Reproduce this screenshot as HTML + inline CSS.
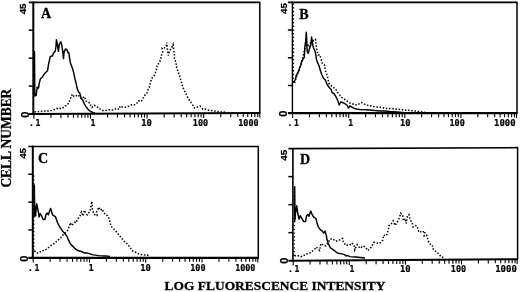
<!DOCTYPE html><html><head><meta charset="utf-8"><style>html,body{margin:0;padding:0;background:#fff;}svg{display:block;}.mono{font-family:"DejaVu Sans Mono",monospace;font-weight:bold;font-size:8.1px;stroke:#000;stroke-width:0.2px;}.sans{font-family:"Liberation Sans",sans-serif;font-weight:bold;font-size:9.8px;stroke:#000;stroke-width:0.25px;}.serif{font-family:"Liberation Serif",serif;font-weight:bold;stroke:#000;stroke-width:0.3px;}</style></head><body>
<svg width="520" height="292" viewBox="0 0 520 292">
<rect width="520" height="292" fill="#fff"/>
<line x1="28.80" y1="2.30" x2="260.3" y2="2.30" stroke="#000" stroke-width="1.7"/>
<line x1="259.8" y1="2.3" x2="259.8" y2="113.0" stroke="#000" stroke-width="1.5"/>
<line x1="33.3" y1="1.60" x2="33.3" y2="115.00" stroke="#000" stroke-width="2"/>
<line x1="28.80" y1="114.02" x2="260.3" y2="113.00" stroke="#000" stroke-width="2.2"/>
<line x1="28.80" y1="30.23" x2="33.3" y2="30.23" stroke="#000" stroke-width="1.5"/>
<line x1="28.80" y1="58.15" x2="33.3" y2="58.15" stroke="#000" stroke-width="1.5"/>
<line x1="28.80" y1="86.08" x2="33.3" y2="86.08" stroke="#000" stroke-width="1.5"/>
<line x1="33.90" y1="114.00" x2="33.90" y2="118.80" stroke="#000" stroke-width="1.1"/>
<line x1="50.94" y1="113.92" x2="50.94" y2="117.92" stroke="#000" stroke-width="1.1"/>
<line x1="60.91" y1="113.88" x2="60.91" y2="117.88" stroke="#000" stroke-width="1.1"/>
<line x1="67.98" y1="113.85" x2="67.98" y2="117.85" stroke="#000" stroke-width="1.1"/>
<line x1="73.46" y1="113.82" x2="73.46" y2="117.82" stroke="#000" stroke-width="1.1"/>
<line x1="77.94" y1="113.80" x2="77.94" y2="117.80" stroke="#000" stroke-width="1.1"/>
<line x1="81.73" y1="113.79" x2="81.73" y2="117.79" stroke="#000" stroke-width="1.1"/>
<line x1="85.01" y1="113.77" x2="85.01" y2="117.77" stroke="#000" stroke-width="1.1"/>
<line x1="87.91" y1="113.76" x2="87.91" y2="117.76" stroke="#000" stroke-width="1.1"/>
<line x1="90.50" y1="113.75" x2="90.50" y2="118.55" stroke="#000" stroke-width="1.1"/>
<line x1="107.54" y1="113.67" x2="107.54" y2="117.67" stroke="#000" stroke-width="1.1"/>
<line x1="117.51" y1="113.63" x2="117.51" y2="117.63" stroke="#000" stroke-width="1.1"/>
<line x1="124.58" y1="113.60" x2="124.58" y2="117.60" stroke="#000" stroke-width="1.1"/>
<line x1="130.06" y1="113.57" x2="130.06" y2="117.57" stroke="#000" stroke-width="1.1"/>
<line x1="134.54" y1="113.55" x2="134.54" y2="117.55" stroke="#000" stroke-width="1.1"/>
<line x1="138.33" y1="113.54" x2="138.33" y2="117.54" stroke="#000" stroke-width="1.1"/>
<line x1="141.61" y1="113.52" x2="141.61" y2="117.52" stroke="#000" stroke-width="1.1"/>
<line x1="144.51" y1="113.51" x2="144.51" y2="117.51" stroke="#000" stroke-width="1.1"/>
<line x1="147.10" y1="113.50" x2="147.10" y2="118.30" stroke="#000" stroke-width="1.1"/>
<line x1="164.14" y1="113.42" x2="164.14" y2="117.42" stroke="#000" stroke-width="1.1"/>
<line x1="174.11" y1="113.38" x2="174.11" y2="117.38" stroke="#000" stroke-width="1.1"/>
<line x1="181.18" y1="113.35" x2="181.18" y2="117.35" stroke="#000" stroke-width="1.1"/>
<line x1="186.66" y1="113.32" x2="186.66" y2="117.32" stroke="#000" stroke-width="1.1"/>
<line x1="191.14" y1="113.30" x2="191.14" y2="117.30" stroke="#000" stroke-width="1.1"/>
<line x1="194.93" y1="113.29" x2="194.93" y2="117.29" stroke="#000" stroke-width="1.1"/>
<line x1="198.21" y1="113.27" x2="198.21" y2="117.27" stroke="#000" stroke-width="1.1"/>
<line x1="201.11" y1="113.26" x2="201.11" y2="117.26" stroke="#000" stroke-width="1.1"/>
<line x1="203.70" y1="113.25" x2="203.70" y2="118.05" stroke="#000" stroke-width="1.1"/>
<line x1="220.74" y1="113.17" x2="220.74" y2="117.17" stroke="#000" stroke-width="1.1"/>
<line x1="230.71" y1="113.13" x2="230.71" y2="117.13" stroke="#000" stroke-width="1.1"/>
<line x1="237.78" y1="113.10" x2="237.78" y2="117.10" stroke="#000" stroke-width="1.1"/>
<line x1="243.26" y1="113.07" x2="243.26" y2="117.07" stroke="#000" stroke-width="1.1"/>
<line x1="247.74" y1="113.05" x2="247.74" y2="117.05" stroke="#000" stroke-width="1.1"/>
<line x1="251.53" y1="113.04" x2="251.53" y2="117.04" stroke="#000" stroke-width="1.1"/>
<line x1="254.81" y1="113.02" x2="254.81" y2="117.02" stroke="#000" stroke-width="1.1"/>
<line x1="257.71" y1="113.01" x2="257.71" y2="117.01" stroke="#000" stroke-width="1.1"/>
<line x1="259.80" y1="113.00" x2="259.80" y2="117.80" stroke="#000" stroke-width="1.1"/>
<path d="M34.5,51 L34.8,96 L36.2,95.4 L37.2,87.2 L38.5,88.1 L39.3,83.1 L40.3,79 L42.4,77 L44.4,73.9 L45.4,72.7 L47.5,70.8 L48.5,64.6 L49.6,59.5 L50.2,56.6 L52.6,55.7 L53.6,52.8 L55.2,51.3 L56,46.5 L56.4,39.8 L57.4,44.1 L58.4,51.3 L59.3,44.6 L60.8,41.7 L61.7,44.6 L62.7,51.3 L63.5,58.6 L64.1,51.8 L65.6,48.9 L67,49.9 L68,52.8 L68.9,52.8 L69.4,57.1 L70.4,62.9 L72.4,68.1 L73.9,73.5 L74.7,78.1 L76.2,83.5 L77,88.1 L78.5,92 L79.8,93.1 L81,97.7 L82.7,100 L84.4,104 L86.1,106.9 L88.4,109.8 L90.8,111.5 L93.1,112.7 L95,113" fill="none" stroke="#000" stroke-width="1.45" stroke-linejoin="round"/>
<path d="M34.5,112 L40,111.5 L45,111 L50,111 L55,109.2 L58.5,108 L61.9,108.6 L65.4,105.8 L67.7,104.6 L69.4,101.1 L71.1,97.1 L72.3,94.2 L74,96.5 L75.8,96 L78.1,94.8 L79.8,97.1 L81.5,98.8 L84.4,96.5 L86.1,101.1 L88.4,101.7 L90.2,104 L91.9,107.5 L94.2,105.2 L96.5,106.3 L99.4,108.6 L102.3,110.4 L105.7,110.4 L109.2,109.8 L113.1,110.1 L116.2,108.5 L119.2,109.3 L120,106.2 L122.3,107 L125.4,107.3 L128.5,106.2 L131.6,104.7 L134.7,104.7 L137,103.1 L138.5,100.8 L140.8,101.6 L142.7,99.5 L144.2,95.8 L146.8,93.4 L147.8,90.3 L149.4,87.2 L150.4,82.6 L151.6,78.5 L153.9,76.2 L155.5,72.3 L156.6,68.6 L157.3,64.5 L159.3,63.1 L160.7,59 L161.4,55.5 L162.7,52.1 L162.1,48 L164.1,48 L166.2,46.6 L166.8,42.5 L167.5,50.1 L168.2,55.5 L169.6,50.8 L171.6,48 L173,44.6 L173.7,50.1 L174.4,54.2 L174.4,59 L175.8,61.7 L176.6,67.5 L179.4,75.1 L181.3,81.7 L183.2,88.2 L186,93.9 L188.8,99.5 L191.7,103.3 L194.5,108 L197.3,107.1 L200.1,106.1 L203,109.3 L205.8,109.3 L209.5,110.5 L213.3,110.8 L219,111.8 L226.5,112.2" fill="none" stroke="#000" stroke-width="1.5" stroke-dasharray="1.5 1.7"/>
<text class="mono" x="28.9" y="126.2">.</text>
<text class="mono" x="35.4" y="126.2">1</text>
<text class="mono" x="90.6" y="126.2">1</text>
<text class="mono" x="141.2" y="126.2" textLength="10.6" lengthAdjust="spacingAndGlyphs">10</text>
<text class="mono" x="192.8" y="126.2" textLength="15.3" lengthAdjust="spacingAndGlyphs">100</text>
<text class="mono" x="238.3" y="126.2" textLength="20.2" lengthAdjust="spacingAndGlyphs">1000</text>
<text class="sans" text-anchor="middle" transform="translate(26.4,8.9) rotate(-90)">45</text>
<text class="sans" style="font-size:11px" text-anchor="middle" transform="translate(28.7,114.6) rotate(-90)">0</text>
<text class="serif" font-size="14" x="41.0" y="17.75">A</text>
<line x1="287.90" y1="2.30" x2="517.5" y2="2.30" stroke="#000" stroke-width="1.7"/>
<line x1="517.0" y1="2.3" x2="517.0" y2="113.2" stroke="#000" stroke-width="1.5"/>
<line x1="292.4" y1="1.60" x2="292.4" y2="114.20" stroke="#000" stroke-width="1.4"/>
<line x1="287.90" y1="113.20" x2="517.5" y2="113.20" stroke="#000" stroke-width="2.2"/>
<line x1="287.90" y1="30.03" x2="292.4" y2="30.03" stroke="#000" stroke-width="1.5"/>
<line x1="287.90" y1="57.75" x2="292.4" y2="57.75" stroke="#000" stroke-width="1.5"/>
<line x1="287.90" y1="85.48" x2="292.4" y2="85.48" stroke="#000" stroke-width="1.5"/>
<line x1="292.60" y1="113.20" x2="292.60" y2="118.00" stroke="#000" stroke-width="1.1"/>
<line x1="309.49" y1="113.20" x2="309.49" y2="117.20" stroke="#000" stroke-width="1.1"/>
<line x1="319.37" y1="113.20" x2="319.37" y2="117.20" stroke="#000" stroke-width="1.1"/>
<line x1="326.38" y1="113.20" x2="326.38" y2="117.20" stroke="#000" stroke-width="1.1"/>
<line x1="331.81" y1="113.20" x2="331.81" y2="117.20" stroke="#000" stroke-width="1.1"/>
<line x1="336.25" y1="113.20" x2="336.25" y2="117.20" stroke="#000" stroke-width="1.1"/>
<line x1="340.01" y1="113.20" x2="340.01" y2="117.20" stroke="#000" stroke-width="1.1"/>
<line x1="343.26" y1="113.20" x2="343.26" y2="117.20" stroke="#000" stroke-width="1.1"/>
<line x1="346.13" y1="113.20" x2="346.13" y2="117.20" stroke="#000" stroke-width="1.1"/>
<line x1="348.70" y1="113.20" x2="348.70" y2="118.00" stroke="#000" stroke-width="1.1"/>
<line x1="365.59" y1="113.20" x2="365.59" y2="117.20" stroke="#000" stroke-width="1.1"/>
<line x1="375.47" y1="113.20" x2="375.47" y2="117.20" stroke="#000" stroke-width="1.1"/>
<line x1="382.48" y1="113.20" x2="382.48" y2="117.20" stroke="#000" stroke-width="1.1"/>
<line x1="387.91" y1="113.20" x2="387.91" y2="117.20" stroke="#000" stroke-width="1.1"/>
<line x1="392.35" y1="113.20" x2="392.35" y2="117.20" stroke="#000" stroke-width="1.1"/>
<line x1="396.11" y1="113.20" x2="396.11" y2="117.20" stroke="#000" stroke-width="1.1"/>
<line x1="399.36" y1="113.20" x2="399.36" y2="117.20" stroke="#000" stroke-width="1.1"/>
<line x1="402.23" y1="113.20" x2="402.23" y2="117.20" stroke="#000" stroke-width="1.1"/>
<line x1="404.80" y1="113.20" x2="404.80" y2="118.00" stroke="#000" stroke-width="1.1"/>
<line x1="421.69" y1="113.20" x2="421.69" y2="117.20" stroke="#000" stroke-width="1.1"/>
<line x1="431.57" y1="113.20" x2="431.57" y2="117.20" stroke="#000" stroke-width="1.1"/>
<line x1="438.58" y1="113.20" x2="438.58" y2="117.20" stroke="#000" stroke-width="1.1"/>
<line x1="444.01" y1="113.20" x2="444.01" y2="117.20" stroke="#000" stroke-width="1.1"/>
<line x1="448.45" y1="113.20" x2="448.45" y2="117.20" stroke="#000" stroke-width="1.1"/>
<line x1="452.21" y1="113.20" x2="452.21" y2="117.20" stroke="#000" stroke-width="1.1"/>
<line x1="455.46" y1="113.20" x2="455.46" y2="117.20" stroke="#000" stroke-width="1.1"/>
<line x1="458.33" y1="113.20" x2="458.33" y2="117.20" stroke="#000" stroke-width="1.1"/>
<line x1="460.90" y1="113.20" x2="460.90" y2="118.00" stroke="#000" stroke-width="1.1"/>
<line x1="477.79" y1="113.20" x2="477.79" y2="117.20" stroke="#000" stroke-width="1.1"/>
<line x1="487.67" y1="113.20" x2="487.67" y2="117.20" stroke="#000" stroke-width="1.1"/>
<line x1="494.68" y1="113.20" x2="494.68" y2="117.20" stroke="#000" stroke-width="1.1"/>
<line x1="500.11" y1="113.20" x2="500.11" y2="117.20" stroke="#000" stroke-width="1.1"/>
<line x1="504.55" y1="113.20" x2="504.55" y2="117.20" stroke="#000" stroke-width="1.1"/>
<line x1="508.31" y1="113.20" x2="508.31" y2="117.20" stroke="#000" stroke-width="1.1"/>
<line x1="511.56" y1="113.20" x2="511.56" y2="117.20" stroke="#000" stroke-width="1.1"/>
<line x1="514.43" y1="113.20" x2="514.43" y2="117.20" stroke="#000" stroke-width="1.1"/>
<line x1="516.50" y1="113.20" x2="516.50" y2="118.00" stroke="#000" stroke-width="1.1"/>
<line x1="293.5" y1="3.5" x2="293.5" y2="83" stroke="#000" stroke-width="1.3" stroke-dasharray="1.3 2.4"/>
<path d="M293.6,83 L294.5,81 L295.6,79 L296.2,75.5 L297.3,73.7 L299.1,70.2 L299.5,67.9 L300.8,65.5 L301.5,62.1 L302.9,59.2 L304.3,57.3 L304.8,47.7 L305.8,40 L306.3,32.2 L306.75,40 L307.2,51.5 L308.2,53.5 L309.2,49.6 L310.6,45.8 L311.1,41.9 L311.6,37 L312.5,43.8 L313.5,47.7 L314.4,49.6 L315.4,52.5 L315.9,55.4 L316.4,59.2 L317.3,62 L318.9,65.5 L320.6,71.3 L321.8,74.8 L323.5,78.3 L325.3,80.1 L327,84.1 L328.8,87.1 L331.1,89.4 L332.3,92.9 L334,93.5 L335.4,95.8 L337.7,100.4 L339.2,105 L340.8,101.9 L343.1,102.7 L346.9,105 L348.5,108 L350,105.8 L352.3,107.3 L355.4,108.8 L360,109.6 L366.2,109.8 L372,110.2 L380,111 L385,111 L390,111.5 L396.9,112 L405,112.6" fill="none" stroke="#000" stroke-width="1.45" stroke-linejoin="round"/>
<path d="M294.6,83 L296,78 L297.5,74 L299.5,69 L301.2,63 L303.2,56 L304.5,50 L306,46 L307.5,44 L309,47 L310.5,43 L312,39 L313.5,41 L315.5,39.6 L316.2,45.8 L316.9,49.9 L318.3,55 L319.7,54.7 L321,58.8 L322.4,63.6 L324.5,65 L325.3,70.2 L326.5,73.7 L327.6,77.2 L328.8,83 L330,85 L332.3,86.5 L335.8,89.4 L337.5,92.3 L341.5,97.3 L346.2,100.4 L350.8,103.5 L356.9,105 L361.5,102.7 L366.2,105 L370.8,105.8 L375.4,107 L381.5,107.5 L386.2,108.5 L390.8,108.5 L395.4,109 L400,109.5 L410,110.5 L420,111.5 L425,112.5" fill="none" stroke="#000" stroke-width="1.5" stroke-dasharray="1.5 1.7"/>
<text class="mono" x="287.6" y="126.0">.</text>
<text class="mono" x="294.1" y="126.0">1</text>
<text class="mono" x="348.2" y="126.0">1</text>
<text class="mono" x="400.0" y="126.0" textLength="10.6" lengthAdjust="spacingAndGlyphs">10</text>
<text class="mono" x="449.5" y="126.0" textLength="15.3" lengthAdjust="spacingAndGlyphs">100</text>
<text class="mono" x="494.0" y="126.0" textLength="21.6" lengthAdjust="spacingAndGlyphs">1000</text>
<text class="sans" text-anchor="middle" transform="translate(286.7,8.6) rotate(-90)">45</text>
<text class="sans" style="font-size:11px" text-anchor="middle" transform="translate(287.2,113.8) rotate(-90)">0</text>
<text class="serif" font-size="14" x="299.2" y="18.6">B</text>
<line x1="28.30" y1="146.40" x2="258.8" y2="146.40" stroke="#000" stroke-width="1.45"/>
<line x1="258.3" y1="146.4" x2="258.3" y2="257.8" stroke="#000" stroke-width="1.5"/>
<line x1="32.8" y1="145.70" x2="32.8" y2="258.80" stroke="#000" stroke-width="2"/>
<line x1="28.30" y1="257.80" x2="258.8" y2="257.80" stroke="#000" stroke-width="2.2"/>
<line x1="28.30" y1="174.25" x2="32.8" y2="174.25" stroke="#000" stroke-width="1.5"/>
<line x1="28.30" y1="202.10" x2="32.8" y2="202.10" stroke="#000" stroke-width="1.5"/>
<line x1="28.30" y1="229.95" x2="32.8" y2="229.95" stroke="#000" stroke-width="1.5"/>
<line x1="33.20" y1="257.80" x2="33.20" y2="262.60" stroke="#000" stroke-width="1.1"/>
<line x1="50.14" y1="257.80" x2="50.14" y2="261.80" stroke="#000" stroke-width="1.1"/>
<line x1="60.05" y1="257.80" x2="60.05" y2="261.80" stroke="#000" stroke-width="1.1"/>
<line x1="67.08" y1="257.80" x2="67.08" y2="261.80" stroke="#000" stroke-width="1.1"/>
<line x1="72.53" y1="257.80" x2="72.53" y2="261.80" stroke="#000" stroke-width="1.1"/>
<line x1="76.99" y1="257.80" x2="76.99" y2="261.80" stroke="#000" stroke-width="1.1"/>
<line x1="80.76" y1="257.80" x2="80.76" y2="261.80" stroke="#000" stroke-width="1.1"/>
<line x1="84.02" y1="257.80" x2="84.02" y2="261.80" stroke="#000" stroke-width="1.1"/>
<line x1="86.90" y1="257.80" x2="86.90" y2="261.80" stroke="#000" stroke-width="1.1"/>
<line x1="89.48" y1="257.80" x2="89.48" y2="262.60" stroke="#000" stroke-width="1.1"/>
<line x1="106.42" y1="257.80" x2="106.42" y2="261.80" stroke="#000" stroke-width="1.1"/>
<line x1="116.32" y1="257.80" x2="116.32" y2="261.80" stroke="#000" stroke-width="1.1"/>
<line x1="123.36" y1="257.80" x2="123.36" y2="261.80" stroke="#000" stroke-width="1.1"/>
<line x1="128.81" y1="257.80" x2="128.81" y2="261.80" stroke="#000" stroke-width="1.1"/>
<line x1="133.27" y1="257.80" x2="133.27" y2="261.80" stroke="#000" stroke-width="1.1"/>
<line x1="137.03" y1="257.80" x2="137.03" y2="261.80" stroke="#000" stroke-width="1.1"/>
<line x1="140.30" y1="257.80" x2="140.30" y2="261.80" stroke="#000" stroke-width="1.1"/>
<line x1="143.17" y1="257.80" x2="143.17" y2="261.80" stroke="#000" stroke-width="1.1"/>
<line x1="145.75" y1="257.80" x2="145.75" y2="262.60" stroke="#000" stroke-width="1.1"/>
<line x1="162.69" y1="257.80" x2="162.69" y2="261.80" stroke="#000" stroke-width="1.1"/>
<line x1="172.60" y1="257.80" x2="172.60" y2="261.80" stroke="#000" stroke-width="1.1"/>
<line x1="179.63" y1="257.80" x2="179.63" y2="261.80" stroke="#000" stroke-width="1.1"/>
<line x1="185.08" y1="257.80" x2="185.08" y2="261.80" stroke="#000" stroke-width="1.1"/>
<line x1="189.54" y1="257.80" x2="189.54" y2="261.80" stroke="#000" stroke-width="1.1"/>
<line x1="193.31" y1="257.80" x2="193.31" y2="261.80" stroke="#000" stroke-width="1.1"/>
<line x1="196.57" y1="257.80" x2="196.57" y2="261.80" stroke="#000" stroke-width="1.1"/>
<line x1="199.45" y1="257.80" x2="199.45" y2="261.80" stroke="#000" stroke-width="1.1"/>
<line x1="202.03" y1="257.80" x2="202.03" y2="262.60" stroke="#000" stroke-width="1.1"/>
<line x1="218.97" y1="257.80" x2="218.97" y2="261.80" stroke="#000" stroke-width="1.1"/>
<line x1="228.87" y1="257.80" x2="228.87" y2="261.80" stroke="#000" stroke-width="1.1"/>
<line x1="235.91" y1="257.80" x2="235.91" y2="261.80" stroke="#000" stroke-width="1.1"/>
<line x1="241.36" y1="257.80" x2="241.36" y2="261.80" stroke="#000" stroke-width="1.1"/>
<line x1="245.82" y1="257.80" x2="245.82" y2="261.80" stroke="#000" stroke-width="1.1"/>
<line x1="249.58" y1="257.80" x2="249.58" y2="261.80" stroke="#000" stroke-width="1.1"/>
<line x1="252.85" y1="257.80" x2="252.85" y2="261.80" stroke="#000" stroke-width="1.1"/>
<line x1="255.72" y1="257.80" x2="255.72" y2="261.80" stroke="#000" stroke-width="1.1"/>
<line x1="257.80" y1="257.80" x2="257.80" y2="262.60" stroke="#000" stroke-width="1.1"/>
<line x1="33.8" y1="175.5" x2="33.8" y2="251" stroke="#000" stroke-width="1.3" stroke-dasharray="1.3 2.4"/>
<path d="M34.3,217 L34.3,185 L34.6,203.7 L35.6,216 L36.7,203.7 L38.5,212.5 L39.1,217.1 L40.2,213.6 L41.4,215.4 L43.2,219.5 L44.9,219.5 L46.1,214.2 L47.2,213.1 L48.4,214.8 L49,212.5 L50.7,208.4 L51.9,213.1 L53.1,215.4 L55.4,216.6 L56.6,220.1 L57.7,223 L58.9,225.3 L60.6,228.2 L62.9,231.6 L65,233.7 L67,236.4 L68.4,239.9 L70.5,244 L73.2,246.7 L76,249.5 L78.7,250.8 L81.4,251.5 L84.2,252.9 L86.9,252.9 L89.1,253.6 L93.2,254.9 L98.7,255.6 L102.8,255.9 L105.5,255.9 L110,256.5" fill="none" stroke="#000" stroke-width="1.45" stroke-linejoin="round"/>
<path d="M34.5,250.8 L36.2,252.9 L39,252.9 L41.7,250.8 L45.1,250.1 L47.9,248.1 L51.3,245.3 L54.7,243.3 L57.5,240.5 L60.2,238.5 L62.9,235.1 L65,233 L67.7,230.3 L69.1,226.8 L70.5,222.7 L71.1,225.3 L74,223.6 L75.8,221.2 L76.2,221.8 L77.9,218.9 L80.2,215.4 L81.4,211.9 L83.2,216 L84.3,210.2 L86.1,213.6 L87.2,214.8 L89,212.5 L90.2,210.2 L91.9,201.4 L92.5,209.6 L93.6,213.6 L95.4,215.4 L97.1,215.4 L96.6,211.9 L98.9,207.2 L100.1,210.2 L102.4,209 L103.6,212.5 L104.7,213.6 L105.9,214.2 L107.6,216 L109.4,218.9 L110,222.4 L111,226.2 L114.5,229.6 L117.9,233.7 L121.3,237.8 L124,241.2 L127.5,244 L130.2,247.4 L132.3,250.8 L135.7,252.2 L139.1,254.2 L142.5,254.9 L146.6,254.9 L150,256" fill="none" stroke="#000" stroke-width="1.5" stroke-dasharray="1.5 1.7"/>
<text class="mono" x="28.1" y="270.8">.</text>
<text class="mono" x="34.6" y="270.8">1</text>
<text class="mono" x="88.8" y="270.9">1</text>
<text class="mono" x="140.3" y="271.0" textLength="10.6" lengthAdjust="spacingAndGlyphs">10</text>
<text class="mono" x="190.2" y="271.0" textLength="15.3" lengthAdjust="spacingAndGlyphs">100</text>
<text class="mono" x="235.2" y="271.0" textLength="20.2" lengthAdjust="spacingAndGlyphs">1000</text>
<text class="sans" text-anchor="middle" transform="translate(25.7,153.4) rotate(-90)">45</text>
<text class="sans" style="font-size:11px" text-anchor="middle" transform="translate(27.5,258.6) rotate(-90)">0</text>
<text class="serif" font-size="14" x="38.0" y="162.6">C</text>
<line x1="288.40" y1="148.62" x2="518.1" y2="147.70" stroke="#000" stroke-width="1.7"/>
<line x1="517.6" y1="147.7" x2="517.6" y2="259.2" stroke="#000" stroke-width="1.5"/>
<line x1="292.9" y1="147.90" x2="292.9" y2="261.70" stroke="#000" stroke-width="1.6"/>
<line x1="288.40" y1="260.73" x2="518.1" y2="259.20" stroke="#000" stroke-width="1.9"/>
<line x1="288.40" y1="176.62" x2="292.9" y2="176.62" stroke="#000" stroke-width="1.5"/>
<line x1="288.40" y1="204.65" x2="292.9" y2="204.65" stroke="#000" stroke-width="1.5"/>
<line x1="288.40" y1="232.67" x2="292.9" y2="232.67" stroke="#000" stroke-width="1.5"/>
<line x1="293.20" y1="260.70" x2="293.20" y2="265.50" stroke="#000" stroke-width="1.1"/>
<line x1="310.09" y1="260.59" x2="310.09" y2="264.59" stroke="#000" stroke-width="1.1"/>
<line x1="319.97" y1="260.52" x2="319.97" y2="264.52" stroke="#000" stroke-width="1.1"/>
<line x1="326.98" y1="260.47" x2="326.98" y2="264.47" stroke="#000" stroke-width="1.1"/>
<line x1="332.41" y1="260.44" x2="332.41" y2="264.44" stroke="#000" stroke-width="1.1"/>
<line x1="336.85" y1="260.41" x2="336.85" y2="264.41" stroke="#000" stroke-width="1.1"/>
<line x1="340.61" y1="260.38" x2="340.61" y2="264.38" stroke="#000" stroke-width="1.1"/>
<line x1="343.86" y1="260.36" x2="343.86" y2="264.36" stroke="#000" stroke-width="1.1"/>
<line x1="346.73" y1="260.34" x2="346.73" y2="264.34" stroke="#000" stroke-width="1.1"/>
<line x1="349.30" y1="260.32" x2="349.30" y2="265.12" stroke="#000" stroke-width="1.1"/>
<line x1="366.19" y1="260.21" x2="366.19" y2="264.21" stroke="#000" stroke-width="1.1"/>
<line x1="376.07" y1="260.14" x2="376.07" y2="264.14" stroke="#000" stroke-width="1.1"/>
<line x1="383.08" y1="260.10" x2="383.08" y2="264.10" stroke="#000" stroke-width="1.1"/>
<line x1="388.51" y1="260.06" x2="388.51" y2="264.06" stroke="#000" stroke-width="1.1"/>
<line x1="392.95" y1="260.03" x2="392.95" y2="264.03" stroke="#000" stroke-width="1.1"/>
<line x1="396.71" y1="260.01" x2="396.71" y2="264.01" stroke="#000" stroke-width="1.1"/>
<line x1="399.96" y1="259.99" x2="399.96" y2="263.99" stroke="#000" stroke-width="1.1"/>
<line x1="402.83" y1="259.97" x2="402.83" y2="263.97" stroke="#000" stroke-width="1.1"/>
<line x1="405.40" y1="259.95" x2="405.40" y2="264.75" stroke="#000" stroke-width="1.1"/>
<line x1="422.29" y1="259.84" x2="422.29" y2="263.84" stroke="#000" stroke-width="1.1"/>
<line x1="432.17" y1="259.77" x2="432.17" y2="263.77" stroke="#000" stroke-width="1.1"/>
<line x1="439.18" y1="259.72" x2="439.18" y2="263.72" stroke="#000" stroke-width="1.1"/>
<line x1="444.61" y1="259.69" x2="444.61" y2="263.69" stroke="#000" stroke-width="1.1"/>
<line x1="449.05" y1="259.66" x2="449.05" y2="263.66" stroke="#000" stroke-width="1.1"/>
<line x1="452.81" y1="259.63" x2="452.81" y2="263.63" stroke="#000" stroke-width="1.1"/>
<line x1="456.06" y1="259.61" x2="456.06" y2="263.61" stroke="#000" stroke-width="1.1"/>
<line x1="458.93" y1="259.59" x2="458.93" y2="263.59" stroke="#000" stroke-width="1.1"/>
<line x1="461.50" y1="259.57" x2="461.50" y2="264.37" stroke="#000" stroke-width="1.1"/>
<line x1="478.39" y1="259.46" x2="478.39" y2="263.46" stroke="#000" stroke-width="1.1"/>
<line x1="488.27" y1="259.40" x2="488.27" y2="263.40" stroke="#000" stroke-width="1.1"/>
<line x1="495.28" y1="259.35" x2="495.28" y2="263.35" stroke="#000" stroke-width="1.1"/>
<line x1="500.71" y1="259.31" x2="500.71" y2="263.31" stroke="#000" stroke-width="1.1"/>
<line x1="505.15" y1="259.28" x2="505.15" y2="263.28" stroke="#000" stroke-width="1.1"/>
<line x1="508.91" y1="259.26" x2="508.91" y2="263.26" stroke="#000" stroke-width="1.1"/>
<line x1="512.16" y1="259.24" x2="512.16" y2="263.24" stroke="#000" stroke-width="1.1"/>
<line x1="515.03" y1="259.22" x2="515.03" y2="263.22" stroke="#000" stroke-width="1.1"/>
<line x1="517.10" y1="259.20" x2="517.10" y2="264.00" stroke="#000" stroke-width="1.1"/>
<line x1="294.2" y1="188" x2="294.2" y2="256" stroke="#000" stroke-width="1.3" stroke-dasharray="1.3 2.4"/>
<path d="M294.7,222 L294.7,186.7 L295,219.8 L295.6,212.8 L296.7,205.8 L297.9,214 L299.1,219.2 L300.2,215.7 L302,218.6 L303.7,221.6 L305.5,221.6 L306.6,215.7 L307.8,214.6 L309,216.3 L310.7,211.1 L312.5,215.2 L314.2,217.5 L316,218.6 L317.1,223.3 L318.3,226.8 L320.3,229.7 L322.3,231.1 L323.7,233.1 L325,231.1 L326.4,235.8 L327,239.8 L328.4,243.8 L330.4,247.9 L332.4,249.2 L335.1,251.2 L337.8,253.3 L341.8,253.9 L344.5,254.6 L345.9,256 L347.2,255.3 L349.9,256.6 L355.3,257 L365,258" fill="none" stroke="#000" stroke-width="1.45" stroke-linejoin="round"/>
<path d="M294.5,256 L296.7,255.3 L298.8,256 L301.5,256.6 L304.2,255.3 L306.8,253.9 L309.5,253.3 L312.2,251.2 L314.2,249.9 L316.2,247 L319.6,250.5 L320.8,243.6 L323.7,245.3 L326,245.9 L328.8,241.3 L330,239 L332.9,239 L335.8,241.3 L339.2,240.1 L342.7,238.4 L343.3,241.8 L345.6,245.3 L349.6,245.3 L351.9,243 L354.2,245.3 L354.8,249.9 L357.1,244.7 L360,248.2 L363.4,245.9 L365.7,247.6 L368.1,250.5 L370.4,248.2 L372.7,244.7 L373.8,242.4 L379.5,243.4 L382.9,239.9 L383.6,235.1 L386.3,235.8 L388.4,230.3 L389,225.5 L391.1,224.2 L393.2,220.8 L395.2,225.5 L397.3,222.1 L399.3,218 L400.7,213.2 L402.7,215.3 L403.4,220.8 L405.5,218.7 L406.2,223.5 L407.5,216 L408.9,214.6 L410.3,220.1 L412.3,222.8 L413,226.9 L415.8,225.5 L417.1,226.2 L418.5,231 L419.3,230.3 L421.7,232.7 L425,231.1 L424.2,235.9 L426.6,235.1 L428.2,240.8 L429.8,244 L432.2,244.8 L433,248.8 L435.4,251.2 L438.6,253.6 L441.1,256.9 L445,258" fill="none" stroke="#000" stroke-width="1.5" stroke-dasharray="1.5 1.7"/>
<text class="mono" x="288.1" y="272.3">.</text>
<text class="mono" x="294.6" y="272.3">1</text>
<text class="mono" x="349.5" y="272.3">1</text>
<text class="mono" x="400.0" y="272.0" textLength="10.6" lengthAdjust="spacingAndGlyphs">10</text>
<text class="mono" x="450.8" y="271.8" textLength="15.3" lengthAdjust="spacingAndGlyphs">100</text>
<text class="mono" x="495.2" y="271.8" textLength="21.6" lengthAdjust="spacingAndGlyphs">1000</text>
<text class="sans" text-anchor="middle" transform="translate(286.6,155.2) rotate(-90)">45</text>
<text class="sans" style="font-size:11px" text-anchor="middle" transform="translate(287.5,260.7) rotate(-90)">0</text>
<text class="serif" font-size="14" x="299.9" y="163.5">D</text>
<text class="serif" font-size="13.8" x="0" y="0" textLength="98.9" lengthAdjust="spacingAndGlyphs" transform="translate(11.2,187.6) rotate(-90)">CELL NUMBER</text>
<text class="serif" font-size="13.5" x="164.6" y="290.4" textLength="220.8" lengthAdjust="spacingAndGlyphs">LOG FLUORESCENCE INTENSITY</text>
</svg></body></html>
